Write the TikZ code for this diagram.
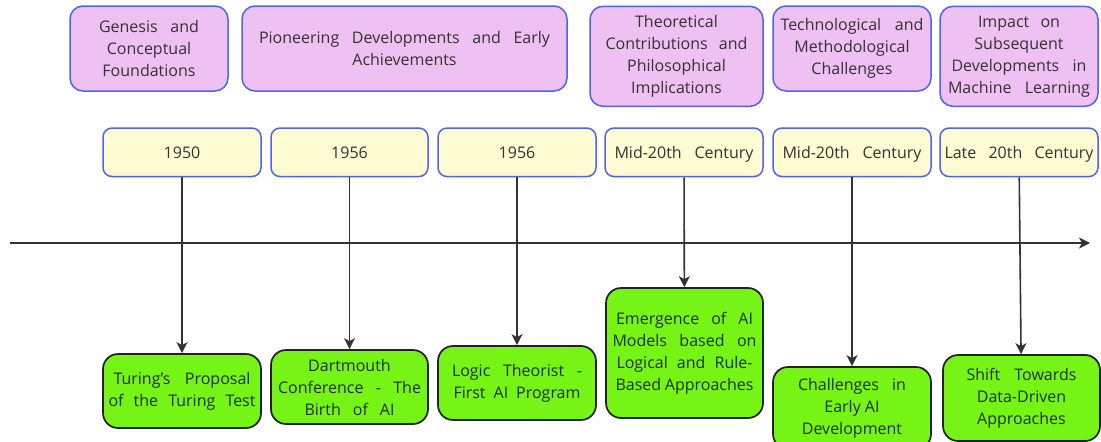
\documentclass[tikz,border=0pt]{standalone}
\usepackage{fontspec}
\setmainfont{Open Sans}
\usetikzlibrary{arrows.meta}
\definecolor{pfill}{HTML}{EFC0F2}
\definecolor{bord}{HTML}{4F63F2}
\definecolor{yfill}{HTML}{FFFBD2}
\definecolor{gfill}{HTML}{76F416}
\definecolor{gbord}{HTML}{222222}
\definecolor{txt}{HTML}{333333}
\definecolor{gtxt}{HTML}{22301A}
\definecolor{ln}{HTML}{333333}
\newcommand{\jl}[2]{\makebox[#1pt][s]{#2}}
\begin{document}
\begin{tikzpicture}[x=1pt,y=-1pt,
  base/.style={inner sep=0pt, align=center, font=\fontsize{16}{22}\selectfont, text=txt, line width=1.5pt},
  topbox/.style={base, draw=bord, fill=pfill, rounded corners=13pt},
  datebox/.style={base, draw=bord, fill=yfill, rounded corners=9pt, minimum height=48.5pt, text height=15pt, text depth=3.5pt},
  evbox/.style={base, draw=gbord, fill=gfill, rounded corners=15pt, text=gtxt, line width=1.7pt},
  conn/.style={draw=ln, line width=1.6pt, -{Stealth[length=11pt,width=11pt,inset=3pt]}}]
\clip (0,0) rectangle (1101,442);
\fill[white] (0,0) rectangle (1101,442);

% top category boxes
\node[topbox, minimum width=158pt, minimum height=85pt] (t1) at (149,48.5) {\jl{100}{Genesis and}\\Conceptual\\Foundations};
\node[topbox, minimum width=325pt, minimum height=85pt] (t2) at (404.5,48.5) {\jl{291}{Pioneering Developments and Early}\\Achievements};
\node[topbox, minimum width=173pt, minimum height=100pt] (t3) at (676.5,56.3) {Theoretical\\\jl{142}{Contributions and}\\Philosophical\\Implications};
\node[topbox, minimum width=158pt, minimum height=85pt] (t4) at (852,48.5) {\jl{143}{Technological and}\\Methodological\\Challenges};
\node[topbox, minimum width=158pt, minimum height=100pt] (t5) at (1019,56.3) {\jl{82}{Impact on}\\Subsequent\\\jl{135}{Developments in}\\\jl{142}{Machine Learning}};

% date boxes
\node[datebox, minimum width=158pt] (d1) at (182,152.3) {1950};
\node[datebox, minimum width=157pt] (d2) at (349.5,152.3) {1956};
\node[datebox, minimum width=158pt] (d3) at (517,152.3) {1956};
\node[datebox, minimum width=158pt] (d4) at (684,152.3) {\jl{139}{Mid-20th Century}};
\node[datebox, minimum width=158pt] (d5) at (852,152.3) {\jl{139}{Mid-20th Century}};
\node[datebox, minimum width=158pt] (d6) at (1019,152.3) {\jl{149}{Late 20th Century}};

% event boxes
\node[evbox, minimum width=158pt, minimum height=74pt] (e1) at (182,391) {\jl{137}{Turing's Proposal}\\\jl{147}{of the Turing Test}};
\node[evbox, minimum width=157pt, minimum height=74pt] (e2) at (349.5,387) {Dartmouth\\\jl{143}{Conference - The}\\\jl{90}{Birth of AI}};
\node[evbox, minimum width=158pt, minimum height=74pt] (e3) at (517,383) {\jl{130}{Logic Theorist -}\\\jl{127}{First AI Program}};
\node[evbox, minimum width=157pt, minimum height=130pt] (e4) at (684.5,353) {\jl{137}{Emergence of AI}\\\jl{144}{Models based on}\\\jl{136}{Logical and Rule-}\\\jl{138}{Based Approaches}};
\node[evbox, minimum width=158pt, minimum height=82pt] (e5) at (852,408) {\jl{108}{Challenges in}\\Early AI\\Development};
\node[evbox, minimum width=157pt, minimum height=86pt] (e6) at (1021.5,398) {\jl{110}{Shift Towards}\\Data-Driven\\Approaches};

% timeline axis
\coordinate (axl) at (10,243);
\coordinate (axr) at (1090,243);
\draw[conn] (axl) -- (axr);

% connectors
\draw[conn] (d1) -- (e1);
\draw[conn] (d2) -- (e2);
\draw[conn] (d3) -- (e3);
\draw[conn] (d4) -- (e4);
\draw[conn] (d5) -- (e5);
\draw[conn] (d6) -- (e6);
\end{tikzpicture}
\end{document}
